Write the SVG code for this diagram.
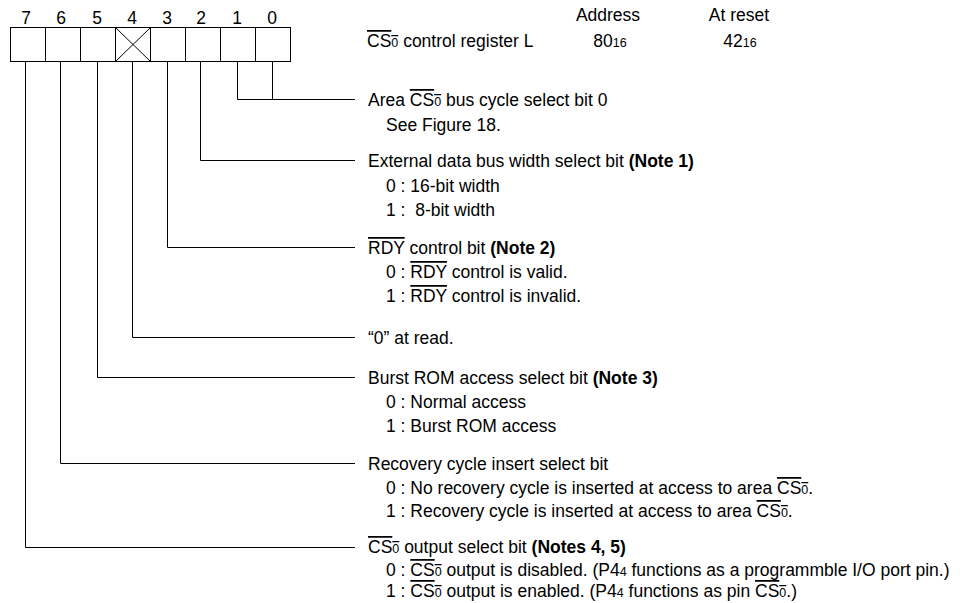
<svg xmlns="http://www.w3.org/2000/svg" width="973" height="603" viewBox="0 0 973 603">
<style>
text{font-family:"Liberation Sans",Arial,sans-serif;font-size:17.5px;fill:#000;white-space:pre}
.sub{font-size:12.5px}
.ov{text-decoration:overline}
.b{font-weight:bold}
.mid{text-anchor:middle}
.ln{stroke:#000;stroke-width:1;fill:none}
</style>
<rect width="973" height="603" fill="#fff"/>
<g id="register">
<g class="mid">
<text x="26" y="24">7</text><text x="61" y="24">6</text><text x="97" y="24">5</text><text x="132" y="24">4</text>
<text x="167" y="24">3</text><text x="201" y="24">2</text><text x="237" y="24">1</text><text x="272" y="24">0</text>
</g>
<rect class="ln" x="10.5" y="27.5" width="280" height="34" stroke-width="1.5"/>
<path class="ln" d="M45.5 27.5V61.5M80.5 27.5V61.5M115.5 27.5V61.5M150.5 27.5V61.5M185.5 27.5V61.5M220.5 27.5V61.5M255.5 27.5V61.5"/>
<path class="ln" d="M115.5 27.5L150.5 61.5M150.5 27.5L115.5 61.5"/>
</g>
<g id="header">
<text x="367" y="47"><tspan class="ov">CS<tspan class="sub">0</tspan></tspan> control register L</text>
<text x="608" y="21" class="mid">Address</text>
<text x="610" y="47" class="mid">80<tspan class="sub">16</tspan></text>
<text x="739" y="21" class="mid">At reset</text>
<text x="740" y="47" class="mid">42<tspan class="sub">16</tspan></text>
</g>
<g id="connectors">
<path class="ln" d="M237.5 61.5V99.5H355M272.5 61.5V99.5"/>
<path class="ln" d="M200.5 61.5V160.5H355"/>
<path class="ln" d="M167.5 61.5V247.5H355"/>
<path class="ln" d="M132.5 61.5V337.5H355"/>
<path class="ln" d="M97.5 61.5V377.5H355"/>
<path class="ln" d="M60.5 61.5V463.5H355"/>
<path class="ln" d="M25.5 61.5V547.5H355"/>
</g>
<g id="bit0-1">
<text x="368" y="106">Area <tspan class="ov">CS<tspan class="sub">0</tspan></tspan> bus cycle select bit 0</text>
<text x="386" y="131">See Figure 18.</text>
</g>
<g id="bit2">
<text x="368" y="167">External data bus width select bit <tspan class="b">(Note 1)</tspan></text>
<text x="386" y="192">0 : 16-bit width</text>
<text x="386" y="216">1 :  8-bit width</text>
</g>
<g id="bit3">
<text x="368" y="254"><tspan class="ov">RDY</tspan> control bit <tspan class="b">(Note 2)</tspan></text>
<text x="386" y="278">0 : <tspan class="ov">RDY</tspan> control is valid.</text>
<text x="386" y="302">1 : <tspan class="ov">RDY</tspan> control is invalid.</text>
</g>
<g id="bit4">
<text x="368" y="344">“0” at read.</text>
</g>
<g id="bit5">
<text x="368" y="384">Burst ROM access select bit <tspan class="b">(Note 3)</tspan></text>
<text x="386" y="408">0 : Normal access</text>
<text x="386" y="432">1 : Burst ROM access</text>
</g>
<g id="bit6">
<text x="368" y="470">Recovery cycle insert select bit</text>
<text x="386" y="494">0 : No recovery cycle is inserted at access to area <tspan class="ov">CS<tspan class="sub">0</tspan></tspan>.</text>
<text x="386" y="517">1 : Recovery cycle is inserted at access to area <tspan class="ov">CS<tspan class="sub">0</tspan></tspan>.</text>
</g>
<g id="bit7">
<text x="368" y="553"><tspan class="ov">CS<tspan class="sub">0</tspan></tspan> output select bit <tspan class="b">(Notes 4, 5)</tspan></text>
<text x="386" y="576">0 : <tspan class="ov">CS<tspan class="sub">0</tspan></tspan> output is disabled. (P4<tspan class="sub">4</tspan> functions as a programmble I/O port pin.)</text>
<text x="386" y="597">1 : <tspan class="ov">CS<tspan class="sub">0</tspan></tspan> output is enabled. (P4<tspan class="sub">4</tspan> functions as pin <tspan class="ov">CS<tspan class="sub">0</tspan></tspan>.)</text>
</g>
</svg>
